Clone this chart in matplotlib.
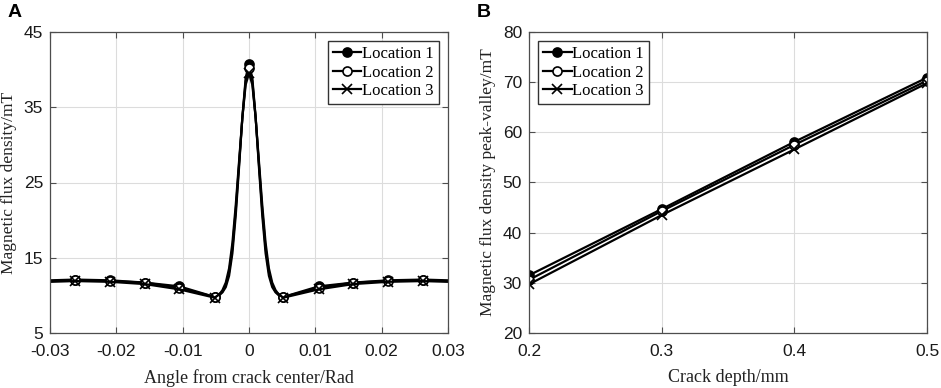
import numpy as np
import matplotlib
matplotlib.use("Agg")
import matplotlib.pyplot as plt

# ---------------- Panel A data ----------------
angle = [-0.030, -0.0262, -0.0209, -0.0157, -0.0105, -0.0052, -0.0045, -0.0040, -0.0035,
         -0.0030, -0.0025, -0.0020, -0.0015, -0.0010, -0.0005, 0.0, 0.0005, 0.0010, 0.0015,
         0.0020, 0.0025, 0.0030, 0.0035, 0.0040, 0.0045, 0.0052, 0.0105, 0.0157, 0.0209,
         0.0262, 0.030]
marker_angles = [-0.0262, -0.0209, -0.0157, -0.0105, -0.0052, 0.0,
                 0.0052, 0.0105, 0.0157, 0.0209, 0.0262]

loc1_a = [12.0, 12.1, 12.0, 11.7, 11.2, 9.8, 10.0, 10.4, 11.1, 12.6, 15.6, 20.6, 27.0, 33.7,
          38.9, 40.8, 38.9, 33.7, 27.0, 20.6, 15.6, 12.6, 11.1, 10.4, 10.0, 9.8, 11.2, 11.7,
          12.0, 12.1, 12.0]
loc2_a = [11.9, 12.0, 11.9, 11.7, 11.0, 9.8, 10.1, 10.5, 11.4, 13.1, 16.3, 21.3, 27.4, 33.6,
          38.5, 40.2, 38.5, 33.6, 27.4, 21.3, 16.3, 13.1, 11.4, 10.5, 10.1, 9.8, 11.0, 11.7,
          11.9, 12.0, 11.9]
loc3_a = [11.8, 11.9, 11.8, 11.5, 10.8, 9.7, 10.1, 10.7, 11.7, 13.6, 17.0, 22.0, 27.8, 33.6,
          38.0, 39.5, 38.0, 33.6, 27.8, 22.0, 17.0, 13.6, 11.7, 10.7, 10.1, 9.7, 10.8, 11.5,
          11.8, 11.9, 11.8]

# ---------------- Panel B data ----------------
depth = [0.2, 0.3, 0.4, 0.5]
loc1_b = [31.5, 44.7, 58.1, 70.9]
loc2_b = [30.6, 44.3, 57.5, 70.3]
loc3_b = [29.7, 43.5, 56.6, 69.8]

labels = ["Location 1", "Location 2", "Location 3"]

serif = ["Liberation Serif", "DejaVu Serif"]
sans = ["Liberation Sans", "DejaVu Sans"]
tick_color = "#1a1a1a"
spine_color = "#4d4d4d"

fig = plt.figure(figsize=(9.41, 3.88), dpi=100)
axA = fig.add_axes([50 / 941, 1 - 333 / 388, 398 / 941, 301 / 388])
axB = fig.add_axes([529 / 941, 1 - 333 / 388, 398 / 941, 301 / 388])

styles = [dict(marker="o", mfc="black", mec="black"),
          dict(marker="o", mfc="white", mec="black"),
          dict(marker="x", mfc="black", mec="black")]

mk_idx = [i for i, a in enumerate(angle) if a in marker_angles]
for y, st, lab in zip([loc1_a, loc2_a, loc3_a], styles, labels):
    axA.plot(angle, y, color="black", lw=1.6, ms=6.5, mew=1.2,
             markevery=mk_idx, label=lab, **st)

for y, st, lab in zip([loc1_b, loc2_b, loc3_b], styles, labels):
    axB.plot(depth, y, color="black", lw=1.6, ms=6.5, mew=1.2, label=lab, **st)


def style(ax):
    ax.grid(True, color="#dcdcdc", lw=0.8)
    ax.set_axisbelow(True)
    for s in ax.spines.values():
        s.set_color(spine_color)
        s.set_linewidth(0.9)
    ax.tick_params(direction="in", top=True, right=True, length=4, width=0.8,
                   color=spine_color, labelsize=12.5, labelcolor=tick_color)
    ax.tick_params(axis="x", pad=8)
    ax.tick_params(axis="y", pad=5)
    for lbl in ax.get_xticklabels() + ax.get_yticklabels():
        lbl.set_family(sans)


axA.set_xlim(-0.03, 0.03)
axA.set_ylim(5, 45)
axA.set_xticks([-0.03, -0.02, -0.01, 0, 0.01, 0.02, 0.03])
axA.set_xticklabels(["-0.03", "-0.02", "-0.01", "0", "0.01", "0.02", "0.03"])
axA.set_yticks([5, 15, 25, 35, 45])
style(axA)
axA.set_xlabel("Angle from crack center/Rad", family=serif, fontsize=13, color="#222", labelpad=7)
axA.set_ylabel("Magnetic flux density/mT", family=serif, fontsize=12.5, color="#222", labelpad=5)

axB.set_xlim(0.2, 0.5)
axB.set_ylim(20, 80)
axB.set_xticks([0.2, 0.3, 0.4, 0.5])
axB.set_yticks([20, 30, 40, 50, 60, 70, 80])
style(axB)
axB.set_xlabel("Crack depth/mm", family=serif, fontsize=13, color="#222", labelpad=7)
axB.set_ylabel("Magnetic flux density peak-valley/mT", family=serif, fontsize=12.5,
               color="#222", labelpad=5)

for ax, loc in [(axA, "upper right"), (axB, "upper left")]:
    leg = ax.legend(loc=loc, prop={"family": serif, "size": 12}, frameon=True,
                    fancybox=False, edgecolor="#333333", framealpha=1,
                    handlelength=1.7, handletextpad=0.05, borderpad=0.3,
                    labelspacing=0.15, borderaxespad=0.55)
    leg.get_frame().set_linewidth(1.0)

fig.text(8 / 941, 1 - 4 / 388, "A", family=sans, fontweight="bold", fontsize=14,
         va="top", ha="left")
fig.text(477 / 941, 1 - 4 / 388, "B", family=sans, fontweight="bold", fontsize=14,
         va="top", ha="left")

fig.savefig("out.png", dpi=100)
